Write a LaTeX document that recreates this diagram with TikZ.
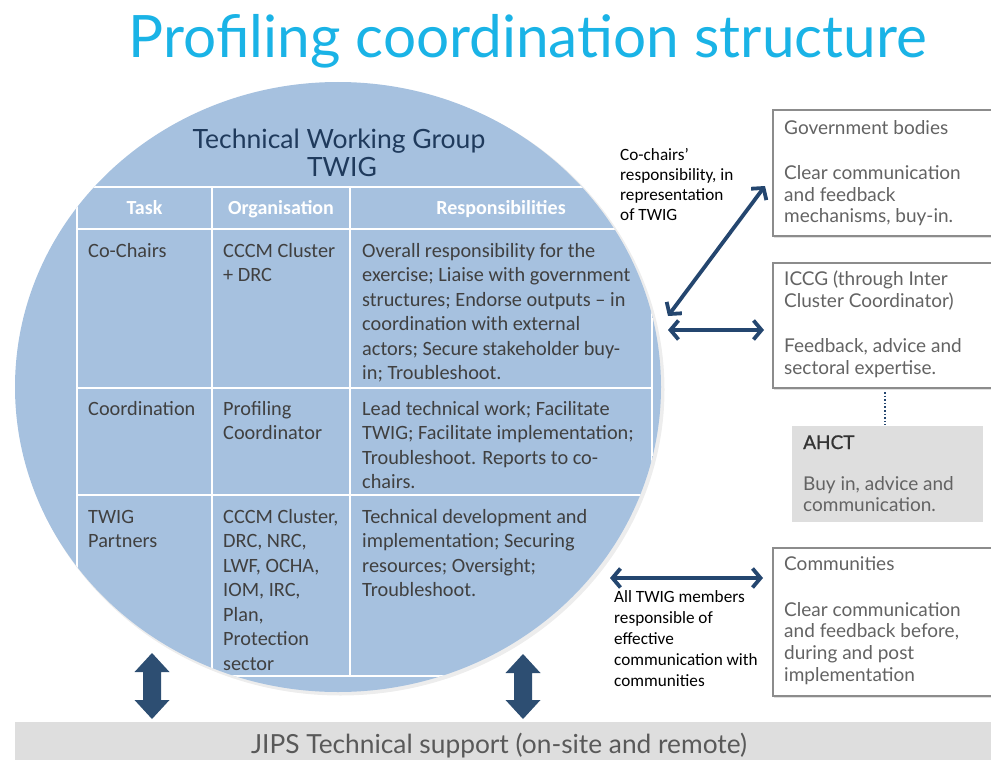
\documentclass[tikz,border=0pt]{standalone}
\usepackage{fontspec}
\setmainfont{Carlito}
\newfontfamily\avn{Lato}
\newfontfamily\avnmed[FakeBold=0.8]{Lato}
\usetikzlibrary{arrows.meta,shapes.geometric}

\definecolor{disc}{HTML}{A6C1DF}
\definecolor{titlecyan}{HTML}{1AB3E6}
\definecolor{navy}{HTML}{1F3A5C}
\definecolor{arrowblue}{HTML}{24466F}
\definecolor{blockblue}{HTML}{2D4E72}
\definecolor{cellgray}{HTML}{404040}
\definecolor{boxtext}{HTML}{636363}
\definecolor{boxline}{HTML}{8C8C8C}
\definecolor{panelgray}{HTML}{DEDEDE}
\definecolor{jipstext}{HTML}{595959}

% vertical double block arrow: centre x, top y, bottom y
\newcommand{\fatdoublearrow}[3]{%
  \fill[blockblue] (#1,#2) -- (#1+17.5,#2+19) -- (#1+9,#2+19) -- (#1+9,#3-19)
    -- (#1+17.5,#3-19) -- (#1,#3) -- (#1-17.5,#3-19) -- (#1-9,#3-19)
    -- (#1-9,#2+19) -- (#1-17.5,#2+19) -- cycle;}

% multi-line nodes are placed by the baseline of their last line
\tikzset{
  cell/.style={anchor=base west, align=left, inner sep=0pt, text=cellgray,
    font=\fontsize{20.3}{24.5}\selectfont},
  colhead/.style={anchor=base, inner sep=0pt, text=white,
    font=\fontsize{20}{22}\selectfont\bfseries},
  gridline/.style={white, line width=1.6pt},
  panel/.style={draw=boxline, line width=2.2pt, fill=white, inner sep=0pt, anchor=north west},
  paneltext/.style={anchor=base west, align=left, inner sep=0pt, text=boxtext,
    font=\avn\fontsize{19}{21.8}\selectfont},
  note/.style={anchor=base west, align=left, inner sep=0pt, text=black,
    font=\fontsize{17.2}{20.3}\selectfont},
  link/.style={arrowblue, line width=3.8pt,
    {Straight Barb[length=8pt,width=19pt]}-{Straight Barb[length=8pt,width=19pt]}},
}

\begin{document}
\begin{tikzpicture}[x=1pt,y=-1pt]
\useasboundingbox (0,0) rectangle (991,760);

% title
\node[anchor=base, inner sep=0pt, text=titlecyan, font=\avn\fontsize{58.5}{60}\selectfont]
  (title) at (528,58) {Profiling coordination structure};

% the TWIG disc with a soft shadow
\fill[black, opacity=0.07] (340.5,389.5) ellipse [x radius=324pt, y radius=306pt];
\node[ellipse, fill=disc, minimum width=646pt, minimum height=610pt, inner sep=0pt]
  (twig) at (338,387) {};

\node[anchor=base, inner sep=0pt, text=navy, font=\avn\fontsize{26.5}{28}\selectfont]
  (twigname) at (339,148) {Technical Working Group};
\node[anchor=base, inner sep=0pt, text=navy, font=\avn\fontsize{26.5}{28}\selectfont]
  (twigshort) at (342,176) {TWIG};

% table grid, kept inside the disc
\begin{scope}
  \clip (twig.center) ellipse [x radius=323pt, y radius=305pt];
  \foreach \y in {187,229,388,495,676}
    \draw[gridline] (77,\y) -- (652,\y);
  \foreach \x in {77,212,350,652}
    \draw[gridline] (\x,187) -- (\x,676);
\end{scope}

% column heads
\node[colhead] (hTask) at (144.5,214) {Task};
\node[colhead] (hOrg) at (281,214) {Organisation};
\node[colhead] (hResp) at (501,214) {Responsibilities};

% row: co-chairs
\node[cell] (r1a) at (88,257) {Co-Chairs};
\node[cell] (r1b) at (223,281.5) {CCCM Cluster\\+ DRC};
\node[cell] (r1c) at (362,379.5) {Overall responsibility for the\\exercise; Liaise with government\\structures; Endorse outputs – in\\coordination with external\\actors; Secure stakeholder buy-\\in; Troubleshoot.};

% row: coordination
\node[cell] (r2a) at (88,415) {Coordination};
\node[cell] (r2b) at (223,439.5) {Profiling\\Coordinator};
\node[cell] (r2c) at (362,488.5) {Lead technical work; Facilitate\\TWIG; Facilitate implementation;\\Troubleshoot. Reports to co-\\chairs.};

% row: partners
\node[cell] (r3a) at (88,547.5) {TWIG\\Partners};
\node[cell] (r3b) at (223,670) {CCCM Cluster,\\DRC, NRC,\\LWF, OCHA,\\IOM, IRC,\\Plan,\\Protection\\sector};
\node[cell] (r3c) at (362,596.5) {Technical development and\\implementation; Securing\\resources; Oversight;\\Troubleshoot.};

% outside partners
\fill[black, opacity=0.12] (774,111) rectangle (996,237.5);
\node[panel, minimum width=222pt, minimum height=126pt] (gov) at (772,109) {};
\node[paneltext] (govt) at (784,134) {Government bodies};
\node[paneltext] (govb) at (784,222.9) {Clear communication\\and feedback\\mechanisms, buy-in.};

\fill[black, opacity=0.12] (774,264) rectangle (996,389.5);
\node[panel, minimum width=222pt, minimum height=125pt] (iccg) at (772,262) {};
\node[paneltext] (iccgt) at (784,307.1) {ICCG (through Inter\\Cluster Coordinator)};
\node[paneltext] (iccgb) at (784,374.5) {Feedback, advice and\\sectoral expertise.};

\node[fill=panelgray, inner sep=0pt, anchor=north west, minimum width=191pt, minimum height=96pt]
  (ahct) at (792,426) {};
\node[anchor=base west, inner sep=0pt, text=black!80, font=\avnmed\fontsize{19}{21.8}\selectfont]
  (ahctt) at (803,449) {AHCT};
\node[paneltext] (ahctb) at (803,511.8) {Buy in, advice and\\communication.};

\fill[black, opacity=0.12] (774,549) rectangle (996,697.5);
\node[panel, minimum width=222pt, minimum height=148pt] (comm) at (772,547) {};
\node[paneltext] (commt) at (784,570.7) {Communities};
\node[paneltext] (commb) at (784,681.4) {Clear communication\\and feedback before,\\during and post\\implementation};

% connectors
\coordinate (govA) at (668,316);
\coordinate (govB) at (765,186);
\draw[link] (govA) -- (govB);
\coordinate (iccgA) at (668,330);
\coordinate (iccgB) at (764,330);
\draw[link] (iccgA) -- (iccgB);
\coordinate (commA) at (610,578);
\coordinate (commB) at (763,578);
\draw[link] (commA) -- (commB);
\coordinate (dotA) at (885,392);
\coordinate (dotB) at (885,425);
\draw[arrowblue, line width=2pt, dash pattern=on 1.6pt off 2pt] (dotA) -- (dotB);

\node[note] (cochairs) at (620,220.9) {Co-chairs’\\responsibility, in\\representation\\of TWIG};
\node[note, font=\fontsize{17.2}{21}\selectfont] (allmembers) at (614,686.7)
  {All TWIG members\\responsible of\\effective\\communication with\\communities};

% technical support bar
\node[fill=panelgray, inner sep=0pt, anchor=north west, minimum width=990pt, minimum height=45pt]
  (jips) at (15,722) {};
\node[anchor=base, inner sep=0pt, text=jipstext, font=\avn\fontsize{26.3}{28}\selectfont]
  (jipst) at (499,753) {JIPS Technical support (on-site and remote)};

% links between the group and the support bar
\coordinate (jl) at (152,653);
\coordinate (jr) at (523,654);
\fatdoublearrow{152}{653}{719}
\fatdoublearrow{523}{654}{719}
\end{tikzpicture}
\end{document}
